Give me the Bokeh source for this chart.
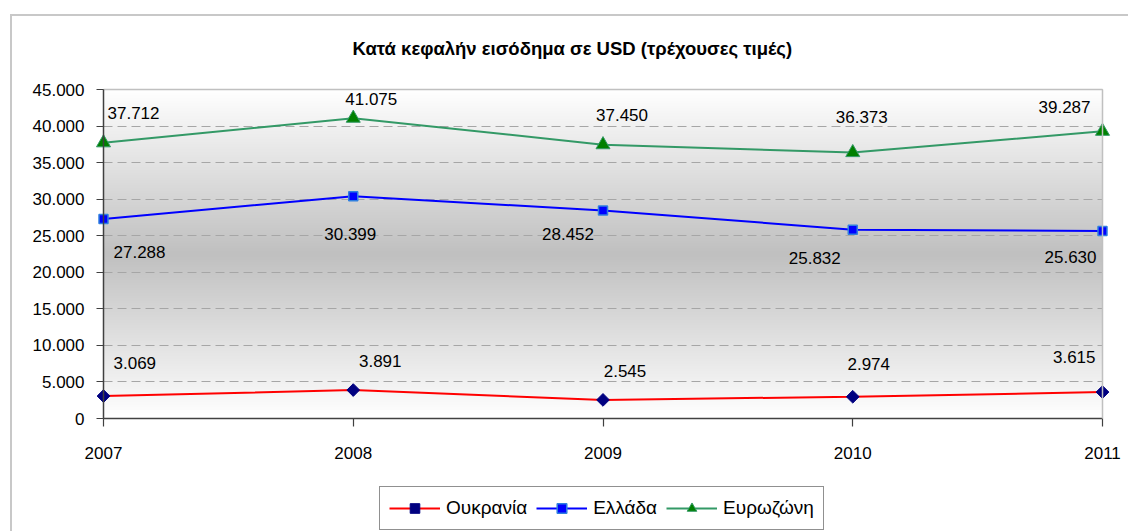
import numpy as np
from bokeh.plotting import figure
from bokeh.models import (ColumnDataSource, Range1d, FixedTicker, Legend, LegendItem,
                          InlineStyleSheet, Label, LinearAxis, Grid)
from bokeh.core.properties import value
from bokeh.embed import file_html
from bokeh.resources import INLINE

# ---------------- data ----------------
years = [2007, 2008, 2009, 2010, 2011]
year_labels = ["2007", "2008", "2009", "2010", "2011"]
ukraine = [3069, 3891, 2545, 2974, 3615]
greece = [27288, 30399, 28452, 25832, 25630]
eurozone = [37712, 41075, 37450, 36373, 39287]
series_names = ["Ουκρανία", "Ελλάδα", "Ευρωζώνη"]
y_ticks = [0, 5000, 10000, 15000, 20000, 25000, 30000, 35000, 40000, 45000]
y_tick_labels = ["0", "5.000", "10.000", "15.000", "20.000", "25.000",
                 "30.000", "35.000", "40.000", "45.000"]
title_text = "Κατά κεφαλήν εισόδημα σε USD (τρέχουσες τιμές)"

# ---------------- styles / layout ----------------
FONT = "Liberation Sans"
FS = "17px"
W, H = 1128, 531
# plot-area (value axes) in page pixels
PA_L, PA_R, PA_T, PA_B = 103, 1102, 89, 418
FRAME_L, FRAME_T = 20, 20        # frame extends around the plot area
Y_MAX = 45000
X0, X1 = years[0], years[-1]
upp_y = Y_MAX / (PA_B - PA_T)
upp_x = (X1 - X0) / (PA_R - PA_L)

GRID_COL = "#a6a6a6"
AXIS_COL = "#404040"
BORDER_COL = "#c0c0c0"

# data-label placement (screen px offsets from each point) and alignment
eu_dx = [4, 18, 19, 9, -12]
eu_dy = [-30, -19, -30, -36, -24]
eu_al = ["left", "center", "center", "center", "right"]
gr_dx = [10, -3, -35, -38, -6]
gr_dy = [33, 38, 24, 28, 26]
gr_al = ["left", "center", "center", "center", "right"]
ua_dx = [10, 27, 22, 16, -7]
ua_dy = [-33, -29, -29, -33, -35]
ua_al = ["left", "center", "center", "center", "right"]


def fmt(v):
    return f"{v:,}".replace(",", ".")


def x_at(px):
    return X0 + (px - PA_L) * upp_x


def y_at(py):
    return (PA_B - py) * upp_y


p = figure(width=W, height=H, x_range=Range1d(x_at(FRAME_L), x_at(W)),
           y_range=Range1d(y_at(H), y_at(FRAME_T)), output_backend="svg",
           toolbar_location=None, x_axis_type=None, y_axis_type=None,
           min_border_left=FRAME_L, min_border_right=0,
           min_border_top=FRAME_T, min_border_bottom=0, border_fill_color="white",
           background_fill_color="white", outline_line_color=None)

# outer chart-area border (left & top visible, rest beyond window)
css = (":host{position:relative;}"
       ":host::after{content:'';position:absolute;left:10px;top:14px;right:0;bottom:0;"
       "border-left:2px solid #c8c8c8;border-top:2px solid #c8c8c8;pointer-events:none;}")
p.stylesheets = [InlineStyleSheet(css=css)]

# gradient background (white - gray - white) over the plot area
N = 256
t = np.linspace(0, 1, N)
d = np.abs(t - 0.5) * 2
g = (192 + (255 - 192) * d).astype(np.uint32)
img = np.empty((N, 1), dtype=np.uint32)
img[:, 0] = (255 << 24) | (g << 16) | (g << 8) | g
p.image_rgba(image=[img], x=X0, y=0, dw=X1 - X0, dh=Y_MAX, level="image")

# horizontal dashed grid restricted to the plot area
if "cross_bounds" in Grid.properties():
    grid = Grid(dimension=1, ticker=FixedTicker(ticks=y_ticks),
                grid_line_color=GRID_COL, grid_line_dash="9 5", grid_line_width=1)
    grid.cross_bounds = (X0, X1)
    p.add_layout(grid)
else:
    gax = LinearAxis(fixed_location=X0, bounds=(0, Y_MAX),
                     ticker=FixedTicker(ticks=y_ticks[1:-1]), axis_line_color=None,
                     major_tick_in=PA_R - PA_L, major_tick_out=0,
                     major_tick_line_color=GRID_COL, major_tick_line_dash="9 5",
                     major_tick_line_width=1, minor_tick_in=0, minor_tick_out=0,
                     major_label_text_font_size="0px", level="underlay")
    p.add_layout(gax, "left")

# plot-area top and right borders
tax = LinearAxis(fixed_location=Y_MAX, bounds=(X0, X1), ticker=FixedTicker(ticks=[]),
                 axis_line_color=BORDER_COL, axis_line_width=1.5,
                 major_tick_out=0, major_tick_in=0, minor_tick_out=0, minor_tick_in=0,
                 major_label_text_font_size="0px")
p.add_layout(tax, "above")
rax = LinearAxis(fixed_location=X1, bounds=(0, Y_MAX), ticker=FixedTicker(ticks=[]),
                 axis_line_color=BORDER_COL, axis_line_width=1.5,
                 major_tick_out=0, major_tick_in=0, minor_tick_out=0, minor_tick_in=0,
                 major_label_text_font_size="0px")
p.add_layout(rax, "right")

# main axes
common = dict(axis_line_color=AXIS_COL, axis_line_width=1.5,
              major_tick_line_color=AXIS_COL, major_tick_line_width=1.2,
              major_tick_in=0, minor_tick_out=0, minor_tick_in=0,
              major_label_text_font=FONT, major_label_text_font_size=FS,
              major_label_text_color="black")

yax = LinearAxis(fixed_location=X0, bounds=(0, Y_MAX),
                 ticker=FixedTicker(ticks=y_ticks),
                 major_label_overrides={k: v for k, v in zip(y_ticks, y_tick_labels)},
                 major_tick_out=7, major_label_standoff=12, **common)
p.add_layout(yax, "left")

xax = LinearAxis(fixed_location=0, bounds=(X0, X1), ticker=FixedTicker(ticks=years),
                 major_label_overrides={k: v for k, v in zip(years, year_labels)},
                 major_tick_out=8, major_label_standoff=20, **common)
p.add_layout(xax, "below")

# series
specs = [
    (ukraine, "#ff0000", dict(marker="square", angle=np.pi / 4, size=9,
                              fill_color="#000080", line_color="#000080", line_width=1),
     ua_dx, ua_dy, ua_al),
    (greece, "#0000ff", dict(marker="square", size=9, fill_color="#0000ff",
                             line_color="#2f7fe0", line_width=1.5),
     gr_dx, gr_dy, gr_al),
    (eurozone, "#339966", dict(marker="triangle", size=14, fill_color="#008000",
                               line_color="#339966", line_width=1),
     eu_dx, eu_dy, eu_al),
]

items = []
for (vals, col, mk, dx, dy, al), name in zip(specs, series_names):
    src = ColumnDataSource(dict(x=years, y=vals, lab=[fmt(v) for v in vals],
                                dx=dx, dy=dy, al=al))
    lr = p.line("x", "y", source=src, line_color=col, line_width=2)
    sr = p.scatter("x", "y", source=src, **mk)
    p.text("x", "y", text="lab", source=src, x_offset="dx", y_offset="dy",
           text_align="al", text_baseline=value("middle"),
           text_font=value(FONT), text_font_size=value(FS), text_color="black")
    items.append(LegendItem(label=name, renderers=[lr, sr]))

# title
p.add_layout(Label(x=x_at(352), y=y_at(48), text=title_text, text_align="left",
                   text_baseline="middle", text_font=FONT, text_font_style="bold",
                   text_font_size="18.5px", text_color="black"))

legend = Legend(items=items, orientation="horizontal", location=(379 - FRAME_L, 1),
                border_line_color="#222222", border_line_width=1.2,
                background_fill_color="white", background_fill_alpha=1,
                padding=9, spacing=9, label_standoff=6, glyph_width=51,
                glyph_height=24, label_height=24, margin=0,
                label_text_font=FONT, label_text_font_size="19px",
                label_text_color="black")
p.add_layout(legend, "center")

open("out.html", "w").write(file_html(p, INLINE))
